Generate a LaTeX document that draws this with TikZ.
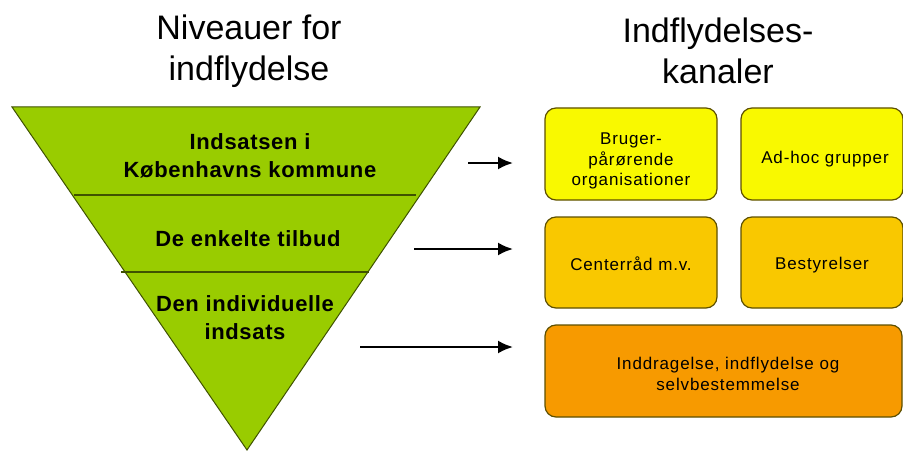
\documentclass[tikz,border=0pt]{standalone}
\usepackage{fontspec}
\setmainfont{Liberation Sans}
\newfontfamily\boxfont[LetterSpace=5]{Liberation Sans}
\newfontfamily\trifont[LetterSpace=3]{Liberation Sans}
\usetikzlibrary{arrows.meta}
\definecolor{trigreen}{HTML}{99CC00}
\definecolor{triline}{HTML}{3F5200}
\definecolor{boxyellow}{HTML}{F9F900}
\definecolor{boxgold}{HTML}{F9C800}
\definecolor{boxorange}{HTML}{F79A00}
\definecolor{boxline}{HTML}{5E5000}
\tikzset{
  title/.style={font=\fontsize{34}{41}\selectfont, align=center, inner sep=0pt},
  trilabel/.style={font=\trifont\bfseries\fontsize{22}{28}\selectfont, align=center, inner sep=0pt},
  chanbox/.style={draw=boxline, line width=1.2pt, rounded corners=11pt, inner sep=0pt},
  chanlabel/.style={align=center, inner sep=0pt, font=\boxfont\fontsize{17}{20.5}\selectfont},
  arrowline/.style={line width=2.2pt, -{Latex[length=15pt,width=13pt]}}
}
\begin{document}
\begin{tikzpicture}[x=1pt,y=-1pt]
\useasboundingbox (0,0) rectangle (903,452);
\fill[white] (0,0) rectangle (903,452);
% titles
\node[title] (t1) at (249,51) {Niveauer for\\indflydelse};
\node[title] (t2) at (718,51) {Indflydelses-\\kanaler};
% triangle
\coordinate (tl) at (12,107);
\coordinate (tr) at (480,107);
\coordinate (tb) at (247,450);
\draw[fill=trigreen, draw=triline, line width=1pt] (tl) -- (tr) -- (tb) -- cycle;
\coordinate (d1a) at (74,195);
\coordinate (d1b) at (416,195);
\coordinate (d2a) at (121,272);
\coordinate (d2b) at (369,272);
\draw[triline, line width=1.2pt] (d1a) -- (d1b);
\draw[triline, line width=1.2pt] (d2a) -- (d2b);
\node[trilabel] (l1) at (250,156) {Indsatsen i\\Københavns kommune};
\node[trilabel] (l2) at (248,239) {De enkelte tilbud};
\node[trilabel] (l3) at (245,318) {Den individuelle\\indsats};
% boxes
\node[chanbox, fill=boxyellow, minimum width=172pt, minimum height=92pt] (b1) at (631,154) {};
\node[chanbox, fill=boxyellow, minimum width=162pt, minimum height=92pt] (b2) at (822,154) {};
\node[chanbox, fill=boxgold, minimum width=172pt, minimum height=91pt] (b3) at (631,262.5) {};
\node[chanbox, fill=boxgold, minimum width=162pt, minimum height=91pt] (b4) at (822,262.5) {};
\node[chanbox, fill=boxorange, minimum width=357pt, minimum height=92pt] (b5) at (723.5,371) {};
\node[chanlabel] (b1l) at (631,161) {Bruger-\\pårørende\\organisationer};
\node[chanlabel] (b2l) at (825,159) {Ad-hoc grupper};
\node[chanlabel] (b3l) at (631,264) {Centerråd m.v.};
\node[chanlabel] (b4l) at (822,265) {Bestyrelser};
\node[chanlabel] (b5l) at (728,374) {Inddragelse, indflydelse og\\selvbestemmelse};
% arrows
\coordinate (a1s) at (468,163);
\coordinate (a1e) at (513,163);
\coordinate (a2s) at (414,249);
\coordinate (a2e) at (513,249);
\coordinate (a3s) at (360,347);
\coordinate (a3e) at (513,347);
\draw[arrowline] (a1s) -- (a1e);
\draw[arrowline] (a2s) -- (a2e);
\draw[arrowline] (a3s) -- (a3e);
\end{tikzpicture}
\end{document}
